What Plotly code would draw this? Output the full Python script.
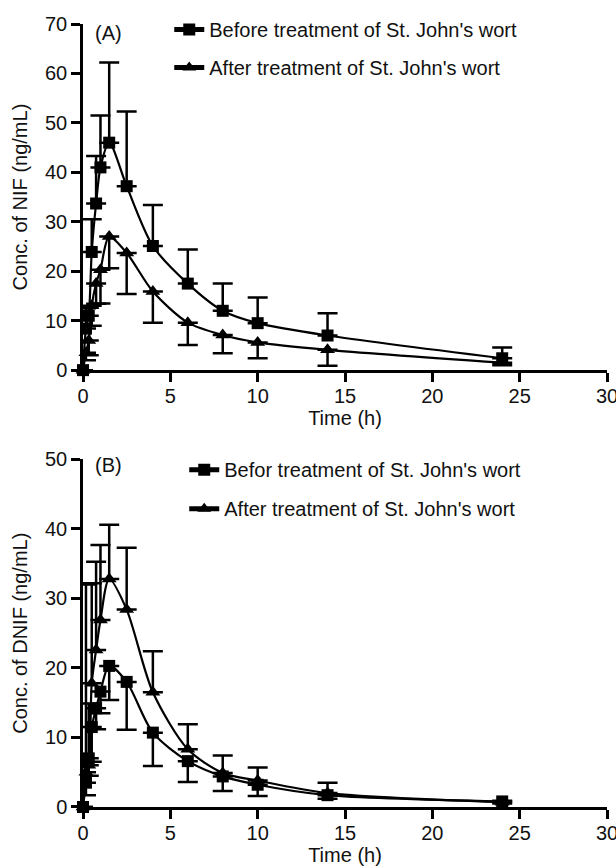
import plotly.graph_objects as go
from plotly.subplots import make_subplots

# ---- data ----
time_h = [0, 0.17, 0.33, 0.5, 0.75, 1, 1.5, 2.5, 4, 6, 8, 10, 14, 24]

# Panel A: NIF
nif_before = [0, 8.4, 11.0, 23.9, 33.7, 41.0, 46.0, 37.2, 25.1, 17.5, 12.0, 9.5, 7.0, 2.4]
nif_before_sd = [0, 4.1, 1.7, 6.6, 9.6, 10.5, 16.2, 15.1, 8.3, 6.9, 5.5, 5.2, 4.5, 2.2]
nif_after = [0, 3.5, 6.0, 13.0, 17.5, 20.3, 27.0, 23.7, 15.9, 9.6, 7.1, 5.6, 4.1, 1.5]
nif_after_sd = [0, 1.5, 3.0, 4.0, 4.1, 6.8, 6.4, 8.3, 6.3, 4.5, 3.7, 3.2, 3.2, 0.5]

# Panel B: DNIF
dnif_before = [0, 3.5, 7.0, 11.5, 14.2, 16.6, 20.3, 18.0, 10.7, 6.6, 4.4, 3.2, 1.7, 0.8]
dnif_before_sd = [0, 1.8, 2.5, 5.0, 3.0, 3.1, 4.9, 6.9, 4.8, 3.0, 2.1, 1.6, 0.5, 0.3]
dnif_after = [0, 5.0, 6.0, 17.8, 22.6, 26.9, 32.8, 28.4, 16.5, 8.3, 4.9, 3.8, 2.0, 0.7]
dnif_after_sd = [0, 27.0, 8.9, 14.4, 12.7, 10.8, 7.8, 8.9, 5.9, 3.6, 2.5, 1.9, 1.5, 0.2]

label_before_a = "Before treatment of St. John's wort"
label_after_a = "After treatment of St. John's wort"
label_before_b = "Befor treatment of St. John's wort"
label_after_b = "After treatment of St. John's wort"

zeros = [0] * len(time_h)

FONT = "Liberation Sans, Arial, sans-serif"
FS = 20
TXT = "#111111"
W, H = 616, 866
# plot area in screen pixels: left 82.7, right 607, top 24, bottom 806.7
ML, MT = 82.7, 24
MR = W - 607
MB = H - 806.7
PH = H - MT - MB
PW = W - ML - MR

def py(pix):
    return (H - MB - pix) / PH

def px(pix):
    return (pix - ML) / PW

fig = make_subplots(rows=2, cols=1, vertical_spacing=0.0)

def add_series(row, y, sd, name, symbol, upper, legend):
    err = dict(type="data", symmetric=False, color="black", thickness=2.5, width=10)
    if upper:
        err["array"] = sd
        err["arrayminus"] = zeros
    else:
        err["array"] = zeros
        err["arrayminus"] = sd
    fig.add_trace(go.Scatter(
        x=time_h, y=y, name=name, mode="lines+markers",
        line=dict(color="black", width=2.2, shape="spline", smoothing=0.8),
        marker=dict(symbol=symbol, size=12 if symbol == "square" else 13, color="black"),
        error_y=err, cliponaxis=False, legend=legend, legendgroup=name + legend,
    ), row=row, col=1)

add_series(1, nif_before, nif_before_sd, label_before_a, "square", True, "legend")
add_series(1, nif_after, nif_after_sd, label_after_a, "triangle-up", False, "legend")
add_series(2, dnif_before, dnif_before_sd, label_before_b, "square", False, "legend2")
add_series(2, dnif_after, dnif_after_sd, label_after_b, "triangle-up", True, "legend2")

axis_common = dict(showline=True, linecolor="black", linewidth=2.5, ticks="outside",
                   ticklen=9, tickwidth=2.5, tickcolor="black", showgrid=False, zeroline=False,
                   automargin=False, ticklabeloverflow="allow",
                   tickfont=dict(family=FONT, size=FS, color=TXT),
                   title_font=dict(family=FONT, size=FS, color=TXT))

fig.update_xaxes(range=[0, 30], dtick=5, title_text="Time (h)", title_standoff=2,
                 ticklabelstandoff=-3, **axis_common)
fig.update_yaxes(**axis_common)
fig.update_yaxes(range=[0, 70], dtick=10, title_text="Conc. of NIF (ng/mL)", title_standoff=12,
                 row=1, col=1)
fig.update_yaxes(range=[0, 50], dtick=10, title_text="Conc. of DNIF (ng/mL)", title_standoff=12,
                 row=2, col=1)

fig.update_layout(
    width=W, height=H, margin=dict(l=ML, r=MR, t=MT, b=MB, autoexpand=False),
    plot_bgcolor="white", paper_bgcolor="white",
    yaxis=dict(domain=[py(370), 1.0]),
    yaxis2=dict(domain=[0.0, py(459.3)]),
    xaxis=dict(anchor="y"), xaxis2=dict(anchor="y2"),
    legend=dict(x=px(169), y=py(10), xanchor="left", yanchor="top",
                font=dict(family=FONT, size=FS, color=TXT), tracegroupgap=9,
                bgcolor="rgba(0,0,0,0)", itemsizing="constant"),
    legend2=dict(x=px(184), y=py(450), xanchor="left", yanchor="top",
                 font=dict(family=FONT, size=FS, color=TXT), tracegroupgap=10,
                 bgcolor="rgba(0,0,0,0)", itemsizing="constant"),
    font=dict(family=FONT, size=FS, color=TXT),
)

fig.add_annotation(text="(A)", x=px(108), y=py(33), xref="paper", yref="paper",
                   xanchor="center", yanchor="middle",
                   showarrow=False, font=dict(family=FONT, size=FS, color=TXT))
fig.add_annotation(text="(B)", x=px(108), y=py(465), xref="paper", yref="paper",
                   xanchor="center", yanchor="middle",
                   showarrow=False, font=dict(family=FONT, size=FS, color=TXT))

fig.write_html(
    "out.html",
    config={"displayModeBar": False},
    post_script="document.body.style.margin='0';document.body.style.overflow='hidden';",
)
